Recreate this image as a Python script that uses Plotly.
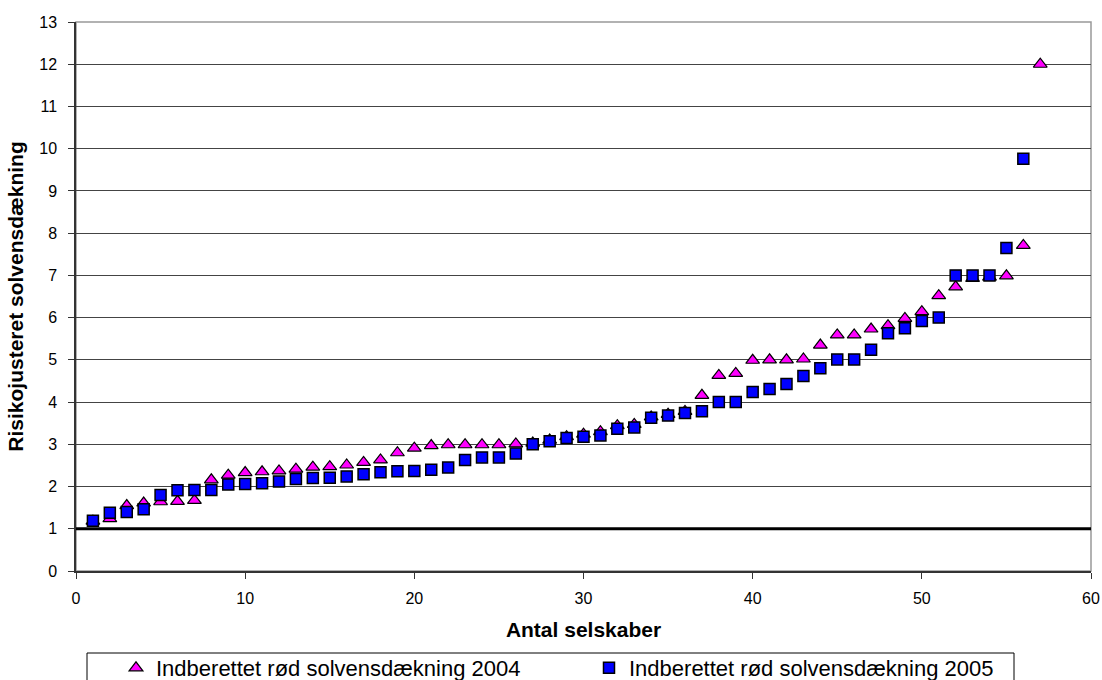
import plotly.graph_objects as go

# Sorted risk-adjusted solvency coverage per company
companies_2004 = list(range(1, 58))
coverage_2004 = [
    1.18, 1.24, 1.55, 1.61, 1.64, 1.65, 1.67, 2.16, 2.27, 2.33,
    2.35, 2.37, 2.41, 2.46, 2.47, 2.51, 2.57, 2.63, 2.80, 2.91,
    2.97, 2.99, 2.99, 2.99, 2.99, 3.01, 3.03, 3.10, 3.18, 3.24,
    3.30, 3.44, 3.47, 3.65, 3.71, 3.78, 4.16, 4.63, 4.68, 4.99,
    5.00, 5.00, 5.02, 5.35, 5.59, 5.59, 5.73, 5.81, 5.98, 6.14,
    6.52, 6.73, 6.93, 6.96, 6.99, 7.71, 12.00,
]

companies_2005 = list(range(1, 57))
coverage_2005 = [
    1.19, 1.38, 1.40, 1.46, 1.80, 1.91, 1.92, 1.92, 2.05, 2.06,
    2.08, 2.12, 2.18, 2.20, 2.21, 2.24, 2.29, 2.34, 2.36, 2.37,
    2.40, 2.45, 2.63, 2.69, 2.69, 2.78, 3.00, 3.07, 3.15, 3.18,
    3.21, 3.37, 3.40, 3.63, 3.68, 3.74, 3.78, 4.00, 4.00, 4.24,
    4.31, 4.43, 4.62, 4.80, 5.01, 5.01, 5.24, 5.63, 5.75, 5.92,
    6.00, 7.00, 7.00, 7.00, 7.65, 9.76,
]

series_names = ["Indberettet rød solvensdækning 2004",
                "Indberettet rød solvensdækning 2005"]
threshold = 1

FONT = "Liberation Sans, Arial, sans-serif"

fig = go.Figure()
fig.add_trace(go.Scatter(
    x=companies_2004, y=coverage_2004, mode="markers", name=series_names[0],
    marker=dict(symbol="triangle-up", size=12, color="#FF00FF",
                line=dict(color="black", width=1.2)),
))
fig.add_trace(go.Scatter(
    x=companies_2005, y=coverage_2005, mode="markers", name=series_names[1],
    marker=dict(symbol="square", size=11, color="#0000FF",
                line=dict(color="black", width=1.5)),
))

# red-light threshold line
fig.add_shape(type="line", xref="x", yref="y", x0=0, x1=60,
              y0=threshold, y1=threshold,
              line=dict(color="black", width=3), layer="above")

# plot frame
fig.add_shape(type="rect", xref="paper", yref="paper", x0=0, x1=1, y0=0, y1=1,
              line=dict(color="#999999", width=1.5), layer="below")

# legend frame
fig.add_shape(type="rect", xref="paper", yref="paper",
              x0=(87 - 76) / 1015, x1=(1014 - 76) / 1015,
              y0=(571 - 653) / 549, y1=(571 - 700) / 549,
              line=dict(color="black", width=1))

fig.update_layout(
    width=1102, height=680,
    margin=dict(l=76, r=11, t=22, b=109, autoexpand=False),
    paper_bgcolor="white", plot_bgcolor="white",
    font=dict(family=FONT, color="black", size=16),
    showlegend=True,
    legend=dict(orientation="h", x=(116 - 76) / 1015, xanchor="left",
                yref="container", y=(680 - 647) / 680, yanchor="top",
                entrywidth=428, entrywidthmode="pixels",
                font=dict(family=FONT, size=22, color="black"),
                bgcolor="rgba(0,0,0,0)", borderwidth=0,
                itemsizing="trace"),
    xaxis=dict(range=[0, 60], dtick=10, tick0=0,
               showgrid=False, zeroline=False,
               showline=True, linecolor="#333333", linewidth=1.5,
               ticks="outside", ticklen=6, tickcolor="#333333",
               ticklabelstandoff=6,
               tickfont=dict(size=16),
               title=dict(text="<b>Antal selskaber</b>", standoff=16,
                          font=dict(size=21))),
    yaxis=dict(range=[0, 13], dtick=1, tick0=0,
               showgrid=True, gridcolor="#444444", gridwidth=1,
               zeroline=False,
               showline=True, linecolor="#333333", linewidth=1.5,
               ticks="outside", ticklen=6, tickcolor="#333333",
               ticklabelstandoff=8,
               tickfont=dict(size=16),
               title=dict(text="<b>Risikojusteret solvensdækning</b>",
                          standoff=10, font=dict(size=21))),
)

fig.write_html("out.html")
